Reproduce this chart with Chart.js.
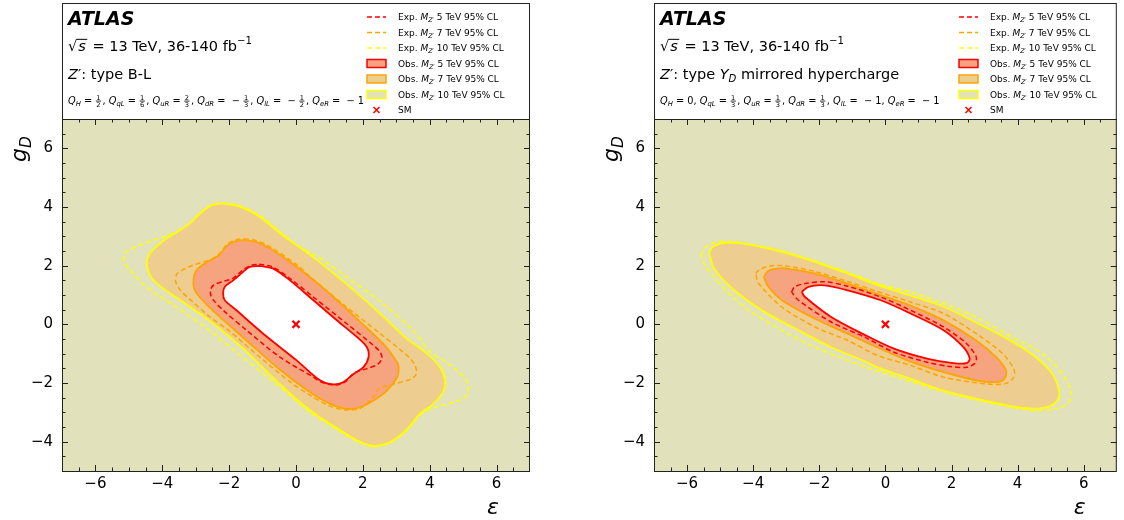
<!DOCTYPE html>
<html>
<head>
<meta charset="utf-8">
<script src="https://cdn.jsdelivr.net/npm/chart.js@4.4.1/dist/chart.umd.min.js"></script>
<style>
  body { margin: 0; background: #fff; }
  canvas { position: absolute; top: 0; }
</style>
</head>
<body>
<canvas id="left" width="562" height="520" style="left:0"></canvas>
<canvas id="right" width="562" height="520" style="left:562px"></canvas>
<script>
// axis ticks
const xTicks = [-6, -4, -2, 0, 2, 4, 6];
const yTicks = [-4, -2, 0, 2, 4, 6];
const xMinor = [-6.5, -6, -5.5, -5, -4.5, -4, -3.5, -3, -2.5, -2, -1.5, -1, -0.5, 0, 0.5, 1, 1.5, 2, 2.5, 3, 3.5, 4, 4.5, 5, 5.5, 6, 6.5];
const yMinor = [-4.5, -4, -3.5, -3, -2.5, -2, -1.5, -1, -0.5, 0, 0.5, 1, 1.5, 2, 2.5, 3, 3.5, 4, 4.5, 5, 5.5, 6, 6.5];
const smPoint = [[0, 0]];

// Z' type B-L contours (epsilon, g_D)
const blObs10 = [[-2.2, 4.12], [-1.7, 4.02], [-1.1, 3.68], [-0.5, 3.12], [0.5, 2.3], [1.5, 1.38], [2.5, 0.38], [3.3, -0.48],
  [3.9, -0.98], [4.3, -1.45], [4.46, -1.9], [4.4, -2.3], [4.1, -2.72], [3.7, -3.06], [3.3, -3.6], [2.8, -4.02], [2.3, -4.14],
  [1.9, -4.0], [1.5, -3.74], [0.5, -3.0], [-0.5, -2.02], [-1.6, -0.8], [-2.6, 0.14], [-3.6, 0.93], [-4.15, 1.38], [-4.38, 1.7],
  [-4.46, 2.08], [-4.42, 2.32], [-4.27, 2.55], [-3.92, 2.88], [-3.52, 3.17], [-3.17, 3.44], [-2.87, 3.78], [-2.5, 4.07], [-2.2, 4.12]];
const blExp10 = [[-2.2, 4.14], [-1.7, 4.05], [-1.1, 3.72], [-0.5, 3.18], [0.0, 2.72], [0.8, 2.2], [1.5, 1.62], [2.5, 0.8], [3.5, -0.2],
  [4.0, -0.92], [4.5, -1.3], [4.85, -1.6], [5.08, -1.88], [5.16, -2.14], [5.08, -2.45], [4.8, -2.63], [4.4, -2.75], [4.0, -2.9],
  [3.7, -3.1], [3.3, -3.64], [2.8, -4.05], [2.3, -4.17], [1.9, -4.03], [1.5, -3.78], [0.9, -3.35], [0.3, -2.9], [-0.3, -2.3],
  [-0.6, -2.03], [-1.6, -1.12], [-2.6, -0.2], [-3.6, 0.6], [-4.2, 1.05], [-4.6, 1.4], [-4.97, 1.85], [-5.15, 2.15], [-5.1, 2.45],
  [-4.8, 2.64], [-4.3, 2.86], [-3.85, 3.03], [-3.5, 3.2], [-3.17, 3.46], [-2.87, 3.8], [-2.5, 4.09], [-2.2, 4.14]];
const blObs7 = [[-1.55, 2.87], [-1.2, 2.81], [-0.8, 2.6], [0.0, 1.98], [1.0, 1.05], [2.0, 0.0], [2.6, -0.65], [2.85, -1.0], [3.05, -1.35],
  [3.07, -1.6], [3.02, -1.82], [2.72, -2.26], [2.32, -2.6], [1.92, -2.83], [1.52, -2.88], [1.02, -2.71], [0.4, -2.3], [-0.48, -1.55],
  [-1.48, -0.55], [-2.47, 0.45], [-2.9, 0.95], [-3.04, 1.2], [-3.07, 1.5], [-3.0, 1.8], [-2.8, 2.02], [-2.5, 2.22], [-2.28, 2.38],
  [-2.05, 2.7], [-1.8, 2.84], [-1.55, 2.87]];
const blExp7 = [[-1.55, 2.92], [-1.2, 2.86], [-0.8, 2.66], [0.0, 2.05], [0.5, 1.55], [1.5, 0.6], [2.5, -0.3], [3.1, -0.85], [3.4, -1.15],
  [3.56, -1.4], [3.6, -1.7], [3.4, -1.88], [2.9, -2.04], [2.5, -2.18], [2.3, -2.5], [1.92, -2.86], [1.52, -2.92], [1.0, -2.78],
  [0.4, -2.4], [-0.1, -2.03], [-1.08, -1.12], [-2.0, -0.22], [-2.57, 0.25], [-3.1, 0.78], [-3.45, 1.15], [-3.6, 1.45], [-3.57, 1.7],
  [-3.4, 1.85], [-3.07, 2.02], [-2.57, 2.2], [-2.3, 2.4], [-2.05, 2.74], [-1.8, 2.88], [-1.55, 2.92]];
const blObs5 = [[-1.08, 1.99], [-0.68, 1.9], [-0.18, 1.5], [0.52, 0.82], [1.22, 0.14], [1.82, -0.43], [2.12, -0.78], [2.17, -1.12],
  [2.02, -1.46], [1.72, -1.69], [1.42, -1.97], [1.12, -2.05], [0.72, -1.91], [0.02, -1.23], [-0.98, -0.32], [-1.78, 0.48],
  [-2.13, 0.82], [-2.18, 1.05], [-2.13, 1.28], [-1.88, 1.5], [-1.58, 1.79], [-1.38, 1.96], [-1.08, 1.99]];
const blExp5 = [[-1.1, 2.05], [-0.7, 1.96], [-0.2, 1.58], [0.52, 0.93], [1.52, 0.02], [2.32, -0.72], [2.52, -0.95], [2.57, -1.15],
  [2.45, -1.36], [2.1, -1.52], [1.75, -1.65], [1.45, -1.98], [1.12, -2.07], [0.72, -1.95], [0.52, -1.8], [-0.48, -1.12],
  [-1.48, -0.2], [-2.18, 0.48], [-2.45, 0.8], [-2.55, 1.0], [-2.55, 1.2], [-2.45, 1.35], [-2.18, 1.46], [-1.9, 1.56],
  [-1.6, 1.84], [-1.38, 2.0], [-1.1, 2.05]];

// Z' type Y_D mirrored hypercharge contours
const ydObs10 = [[-5.33, 2.42], [-5.23, 2.64], [-4.83, 2.78], [-4.13, 2.72], [-3.13, 2.47], [-2.13, 2.13], [-1.14, 1.73], [-0.14, 1.3],
  [0.76, 0.98], [1.76, 0.6], [2.75, 0.06], [3.75, -0.53], [4.55, -1.12], [5.05, -1.69], [5.25, -2.26], [5.2, -2.6], [4.85, -2.83],
  [4.25, -2.86], [3.25, -2.66], [1.76, -2.26], [0.76, -1.86], [-0.24, -1.47], [-0.64, -1.25], [-1.64, -0.78], [-2.63, -0.2],
  [-3.7, 0.45], [-4.63, 1.22], [-5.18, 1.9], [-5.33, 2.42]];
const ydExp10 = [[-5.58, 2.36], [-5.43, 2.64], [-5.13, 2.8], [-4.6, 2.82], [-4.13, 2.74], [-3.13, 2.5], [-2.13, 2.16], [-1.14, 1.77],
  [-0.14, 1.36], [0.76, 1.1], [1.76, 0.72], [2.75, 0.24], [3.75, -0.38], [4.75, -1.0], [5.35, -1.69], [5.6, -2.26], [5.55, -2.66],
  [5.15, -2.88], [4.55, -2.94], [4.2, -2.9], [3.25, -2.7], [1.76, -2.3], [0.76, -1.95], [-0.14, -1.63], [-1.14, -1.23],
  [-2.13, -0.78], [-3.13, -0.2], [-4.13, 0.48], [-4.83, 1.16], [-5.43, 1.96], [-5.58, 2.36]];
const ydObs7 = [[-3.68, 1.62], [-3.55, 1.82], [-3.3, 1.9], [-3.03, 1.91], [-2.13, 1.73], [-1.14, 1.39], [-0.14, 1.0], [0.76, 0.64],
  [1.76, 0.14], [2.75, -0.55], [3.35, -1.12], [3.65, -1.57], [3.6, -1.86], [3.35, -1.97], [2.75, -1.91], [1.76, -1.63],
  [0.76, -1.27], [-0.14, -0.84], [-1.14, -0.32], [-2.13, 0.19], [-3.13, 0.82], [-3.55, 1.3], [-3.68, 1.62]];
const ydExp7 = [[-3.93, 1.73], [-3.83, 1.85], [-3.53, 1.98], [-3.1, 2.0], [-2.13, 1.8], [-1.14, 1.46], [-0.24, 1.12], [0.76, 0.76],
  [1.76, 0.37], [2.75, -0.32], [3.55, -1.0], [3.9, -1.57], [3.85, -1.86], [3.6, -2.03], [3.05, -2.03], [1.76, -1.8], [0.76, -1.4],
  [-0.24, -1.06], [-1.14, -0.55], [-2.13, -0.09], [-3.13, 0.59], [-3.83, 1.39], [-3.93, 1.73]];
const ydObs5 = [[-2.53, 1.1], [-2.33, 1.28], [-1.84, 1.33], [-1.14, 1.16], [-0.14, 0.82], [0.76, 0.37], [1.76, -0.2], [2.36, -0.78],
  [2.55, -1.17], [2.46, -1.32], [2.06, -1.32], [1.26, -1.17], [0.26, -0.83], [-0.64, -0.35], [-1.64, 0.25], [-2.43, 0.93], [-2.53, 1.1]];
const ydExp5 = [[-2.84, 1.1], [-2.74, 1.28], [-2.43, 1.39], [-1.84, 1.45], [-1.14, 1.3], [-0.14, 0.93], [0.76, 0.48], [1.76, -0.09],
  [2.46, -0.66], [2.75, -1.12], [2.7, -1.34], [2.46, -1.46], [1.96, -1.44], [1.26, -1.29], [0.26, -0.95], [-0.64, -0.43],
  [-1.64, 0.08], [-2.63, 0.82], [-2.84, 1.1]];

const KHAKI = '#e1e2bb', TAN = '#eecd91', SALMON = '#f5a47f';
const YELLOW = '#ffff00', ORANGE = '#ffa500', RED = '#ff0000';
const FONT = "'DejaVu Sans'";

// text pieces: it = italic, sub/sup = index, fr = fraction
const M = [{ t: 'M', it: 1 }, { t: 'Z\u2032', it: 1, sub: 1 }];
const legendRows = [
  { kind: 'dash', color: RED, segs: [{ t: 'Exp. ' }, ...M, { t: ' 5 TeV 95% CL' }] },
  { kind: 'dash', color: ORANGE, segs: [{ t: 'Exp. ' }, ...M, { t: ' 7 TeV 95% CL' }] },
  { kind: 'dash', color: YELLOW, segs: [{ t: 'Exp. ' }, ...M, { t: ' 10 TeV 95% CL' }] },
  { kind: 'box', color: RED, fillc: SALMON, segs: [{ t: 'Obs. ' }, ...M, { t: ' 5 TeV 95% CL' }] },
  { kind: 'box', color: ORANGE, fillc: TAN, segs: [{ t: 'Obs. ' }, ...M, { t: ' 7 TeV 95% CL' }] },
  { kind: 'box', color: YELLOW, fillc: KHAKI, segs: [{ t: 'Obs. ' }, ...M, { t: ' 10 TeV 95% CL' }] },
  { kind: 'x', color: RED, segs: [{ t: 'SM' }] }
];
const energyLine = [{ sq: 's' }, { t: ' = 13 TeV, 36-140 fb' }, { t: '\u22121', sup: 1 }];
const blType = [{ t: 'Z', it: 1 }, { t: '\u2032' }, { t: ': type B-L' }];
const ydType = [{ t: 'Z', it: 1 }, { t: '\u2032' }, { t: ': type ' }, { t: 'Y', it: 1 }, { t: 'D', it: 1, sub: 1 }, { t: ' mirrored hypercharge' }];
function q(idx) { return [{ t: 'Q', it: 1 }, { t: idx, it: 1, sub: 1 }, { t: ' = ' }]; }
const blCharges = [...q('H'), { fr: ['1', '2'] }, { t: ', ' }, ...q('qL'), { fr: ['1', '6'] }, { t: ', ' },
  ...q('uR'), { fr: ['2', '3'] }, { t: ', ' }, ...q('dR'), { t: ' \u2212 ' }, { fr: ['1', '3'] }, { t: ', ' },
  ...q('lL'), { t: ' \u2212 ' }, { fr: ['1', '2'] }, { t: ', ' }, ...q('eR'), { t: ' \u2212 1' }];
const ydCharges = [...q('H'), { t: '0, ' }, ...q('qL'), { fr: ['1', '3'] }, { t: ', ' }, ...q('uR'), { fr: ['1', '3'] }, { t: ', ' },
  ...q('dR'), { fr: ['1', '3'] }, { t: ', ' }, ...q('lL'), { t: ' \u2212 1, ' }, ...q('eR'), { t: ' \u2212 1' }];

function rich(ctx, x, y, segs, size) {
    for (const s of segs) {
        if (s.fr) {
            const fs = size * 0.68;
            ctx.font = fs + 'px ' + FONT;
            const w = Math.max(ctx.measureText(s.fr[0]).width, ctx.measureText(s.fr[1]).width) + 2;
            const bar = y - size * 0.3;
            ctx.textAlign = 'center';
            ctx.fillText(s.fr[0], x + w / 2, bar - 1.4);
            ctx.fillText(s.fr[1], x + w / 2, bar + 1.2 + fs * 0.73);
            ctx.textAlign = 'left';
            ctx.fillRect(x + 0.5, bar - 0.4, w - 1, 0.8);
            x += w + 1;
        } else if (s.sq) {
            ctx.font = size + 'px ' + FONT;
            ctx.fillText('\u221a', x, y);
            x += ctx.measureText('\u221a').width;
            ctx.font = 'italic ' + size + 'px ' + FONT;
            const w = ctx.measureText(s.sq).width;
            ctx.fillText(s.sq, x + 1, y);
            ctx.fillRect(x - 0.5, y - size * 0.84, w + 3, 1);
            x += w + 3;
        } else {
            const fs = (s.sub || s.sup) ? size * 0.7 : size;
            ctx.font = (s.it ? 'italic ' : '') + (s.b ? 'bold ' : '') + fs + 'px ' + FONT;
            const dy = s.sub ? size * 0.22 : s.sup ? -size * 0.45 : 0;
            ctx.fillText(s.t, x, y + dy);
            x += ctx.measureText(s.t).width;
        }
    }
    return x;
}

function decor(panel) {
    return {
        id: 'decor',
        beforeDraw(chart) {
            const { ctx, chartArea: a } = chart;
            ctx.save();
            ctx.fillStyle = KHAKI;
            ctx.fillRect(a.left, a.top, a.right - a.left, a.bottom - a.top);
            ctx.restore();
        },
        afterDraw(chart) {
            const { ctx, chartArea: a } = chart;
            const xs = chart.scales.x, ys = chart.scales.y;
            ctx.save();
            ctx.strokeStyle = '#222';
            ctx.lineWidth = 1;
            // inward ticks on all four sides
            ctx.beginPath();
            xMinor.forEach(v => {
                const px = Math.round(xs.getPixelForValue(v)) + 0.5;
                const len = xTicks.includes(v) ? 6 : 3.5;
                ctx.moveTo(px, a.bottom); ctx.lineTo(px, a.bottom - len);
                ctx.moveTo(px, a.top); ctx.lineTo(px, a.top + len);
            });
            yMinor.forEach(v => {
                const py = Math.round(ys.getPixelForValue(v)) + 0.5;
                const len = yTicks.includes(v) ? 6 : 3.5;
                ctx.moveTo(a.left, py); ctx.lineTo(a.left + len, py);
                ctx.moveTo(a.right, py); ctx.lineTo(a.right - len, py);
            });
            ctx.stroke();
            ctx.strokeRect(a.left + 0.5, a.top + 0.5, a.right - a.left - 1, a.bottom - a.top);
            ctx.strokeRect(a.left + 0.5, 3.5, a.right - a.left - 1, a.top - 3);

            // labels in the top box
            ctx.fillStyle = '#000';
            ctx.textBaseline = 'alphabetic';
            ctx.font = 'italic bold 19px ' + FONT;
            ctx.fillText('ATLAS', a.left + 6, 25);
            rich(ctx, a.left + 6, 51, energyLine, 14.5);
            rich(ctx, a.left + 6, 79, panel.type, 14.5);
            rich(ctx, a.left + 6, 104, panel.charges, 9.8);

            // legend
            legendRows.forEach((r, i) => {
                const cy = 17 + i * 15.5;
                const sx = a.left + 305;
                ctx.save();
                ctx.strokeStyle = r.color;
                if (r.kind === 'dash') {
                    ctx.lineWidth = 1.6;
                    ctx.setLineDash([5, 3]);
                    ctx.beginPath(); ctx.moveTo(sx, cy); ctx.lineTo(sx + 19, cy); ctx.stroke();
                } else if (r.kind === 'box') {
                    ctx.lineWidth = 1.5;
                    ctx.fillStyle = r.fillc;
                    ctx.fillRect(sx, cy - 4, 19, 8);
                    ctx.strokeRect(sx, cy - 4, 19, 8);
                } else {
                    ctx.lineWidth = 1.5;
                    ctx.beginPath();
                    ctx.moveTo(sx + 6.5, cy - 3); ctx.lineTo(sx + 12.5, cy + 3);
                    ctx.moveTo(sx + 12.5, cy - 3); ctx.lineTo(sx + 6.5, cy + 3);
                    ctx.stroke();
                }
                ctx.restore();
                rich(ctx, a.left + 336, cy + 3.3, r.segs, 9);
            });

            // axis titles
            ctx.save();
            ctx.translate(a.left - 36, 162);
            ctx.rotate(-Math.PI / 2);
            rich(ctx, 0, 0, [{ t: 'g', it: 1 }, { t: 'D', it: 1, sub: 1 }], 22);
            ctx.restore();
            ctx.font = 'italic 22px ' + FONT;
            ctx.fillText('\u03b5', a.right - 43, 514);
            ctx.restore();
        }
    };
}

function pts(arr) { return arr.map(p => ({ x: p[0], y: p[1] })); }

function contour(arr, color, fillc, dashed, order) {
    return {
        data: pts(arr), showLine: true, pointRadius: 0, tension: 0.3,
        borderColor: color, borderWidth: dashed ? 1.5 : 1.8, borderDash: dashed ? [5, 3] : [],
        backgroundColor: fillc || 'transparent', fill: fillc ? 'shape' : false, order: order
    };
}

function tickLabel(v) { return v < 0 ? '\u2212' + (-v) : String(v); }

function makeChart(id, panel, yWidth, padRight) {
    const c = panel.c;
    return new Chart(document.getElementById(id), {
        type: 'scatter',
        data: {
            datasets: [
                contour(c.obs10, YELLOW, TAN, false, 9),
                contour(c.obs7, ORANGE, SALMON, false, 8),
                contour(c.obs5, RED, '#ffffff', false, 7),
                contour(c.exp10, YELLOW, null, true, 6),
                contour(c.exp7, ORANGE, null, true, 5),
                contour(c.exp5, RED, null, true, 4),
                { data: pts(smPoint), pointStyle: 'crossRot', pointRadius: 5, borderWidth: 2.2, borderColor: RED, order: 0 }
            ]
        },
        options: {
            responsive: false,
            animation: false,
            layout: { padding: { left: 0, right: padRight, top: 119, bottom: 0 } },
            plugins: { legend: { display: false }, tooltip: { enabled: false } },
            scales: {
                x: {
                    type: 'linear', min: -7, max: 7,
                    afterBuildTicks: s => { s.ticks = xTicks.map(v => ({ value: v })); },
                    afterFit: s => { s.height = 49; },
                    grid: { display: false, drawTicks: false }, border: { display: false },
                    ticks: { font: { family: 'DejaVu Sans', size: 15 }, color: '#000', padding: 4, maxRotation: 0, autoSkip: false, callback: tickLabel }
                },
                y: {
                    type: 'linear', min: -5, max: 7,
                    afterBuildTicks: s => { s.ticks = yTicks.map(v => ({ value: v })); },
                    afterFit: s => { s.width = yWidth; },
                    grid: { display: false, drawTicks: false }, border: { display: false },
                    ticks: { font: { family: 'DejaVu Sans', size: 15 }, color: '#000', padding: 9, autoSkip: false, callback: tickLabel }
                }
            }
        },
        plugins: [decor(panel)]
    });
}

makeChart('left', {
    type: blType, charges: blCharges,
    c: { obs10: blObs10, exp10: blExp10, obs7: blObs7, exp7: blExp7, obs5: blObs5, exp5: blExp5 }
}, 62, 32);
makeChart('right', {
    type: ydType, charges: ydCharges,
    c: { obs10: ydObs10, exp10: ydExp10, obs7: ydObs7, exp7: ydExp7, obs5: ydObs5, exp5: ydExp5 }
}, 92, 2);
</script>
</body>
</html>
